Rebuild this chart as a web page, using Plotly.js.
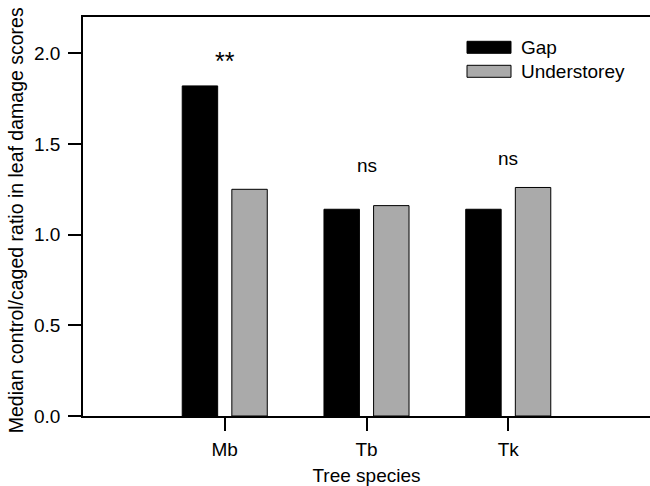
<!DOCTYPE html>
<html>
<head>
<meta charset="utf-8">
<script src="https://cdn.plot.ly/plotly-3.0.1.min.js"></script>
<style>html,body{margin:0;padding:0;background:#fff;}#chart{width:650px;height:486px;}</style>
</head>
<body>
<div id="chart"></div>
<script>
const species = ["Mb", "Tb", "Tk"];
const gapValues = [1.82, 1.14, 1.14];
const understoreyValues = [1.25, 1.16, 1.26];
const sigLabels = ["**", "ns", "ns"];
const sigHeights = [1.96, 1.38, 1.42];
const seriesNames = ["Gap", "Understorey"];
const seriesColors = ["#000000", "#aaaaaa"];
const yTitle = "Median control/caged ratio in leaf damage scores";
const xTitle = "Tree species";

const font = "Liberation Sans, Arial, sans-serif";

const traces = [
  {
    type: "bar", name: seriesNames[0], x: [0, 1, 2], y: gapValues,
    width: 0.25, offset: -0.3,
    marker: {color: seriesColors[0], line: {color: "#000", width: 1}},
    showlegend: false
  },
  {
    type: "bar", name: seriesNames[1], x: [0, 1, 2], y: understoreyValues,
    width: 0.25, offset: 0.05,
    marker: {color: seriesColors[1], line: {color: "#000", width: 1}},
    showlegend: false
  }
];

const annotations = sigLabels.map((t, i) => ({
  x: i, y: sigHeights[i], xref: "x", yref: "y", text: t, showarrow: false,
  font: {family: font, size: t === "**" ? 25 : 19, color: "#000"}
}));

// y-axis title as a rotated text so it can sit exactly where the reference has it
annotations.push({
  xref: "paper", yref: "paper", x: (16 - 83) / 567, y: (415.7 - 220) / 399,
  xanchor: "center", yanchor: "middle", textangle: -90, text: yTitle, showarrow: false,
  font: {family: font, size: 19.5, color: "#000"}
});

// legend built from shapes + text
const legY = [47, 71];
const shapes = [];
seriesNames.forEach((n, i) => {
  shapes.push({
    type: "rect", xref: "paper", yref: "paper",
    x0: (467 - 83) / 567, x1: (511 - 83) / 567,
    y0: (415.7 - (legY[i] - 6)) / 399, y1: (415.7 - (legY[i] + 6)) / 399,
    fillcolor: seriesColors[i], line: {color: "#000", width: 1}
  });
  annotations.push({
    xref: "paper", yref: "paper", x: (519 - 83) / 567, y: (415.7 - legY[i]) / 399,
    xanchor: "left", yanchor: "middle", text: n, showarrow: false,
    font: {family: font, size: 19, color: "#000"}
  });
});

const layout = {
  width: 650, height: 486,
  margin: {l: 83, r: 0, t: 17, b: 70},
  paper_bgcolor: "#fff", plot_bgcolor: "#fff",
  font: {family: font, size: 19, color: "#000"},
  xaxis: {
    range: [-1, 3], tickvals: [0, 1, 2], ticktext: species,
    showgrid: false, zeroline: false, showline: true, linecolor: "#000", linewidth: 1.5,
    mirror: true, ticks: "outside", ticklen: 13, tickwidth: 1.5, tickcolor: "#000",
    tickfont: {family: font, size: 19}, ticklabelstandoff: 2,
    title: {text: xTitle, font: {family: font, size: 19}, standoff: 10}
  },
  yaxis: {
    range: [0, 2.2], dtick: 0.5, tick0: 0, tickformat: ".1f",
    showgrid: false, zeroline: false, showline: true, linecolor: "#000", linewidth: 1.5,
    ticks: "outside", ticklen: 13, tickwidth: 1.5, tickcolor: "#000",
    tickfont: {family: font, size: 19}, ticklabelstandoff: 4
  },
  annotations: annotations,
  shapes: shapes,
  showlegend: false
};

Plotly.newPlot("chart", traces, layout, {displayModeBar: false});
</script>
</body>
</html>
